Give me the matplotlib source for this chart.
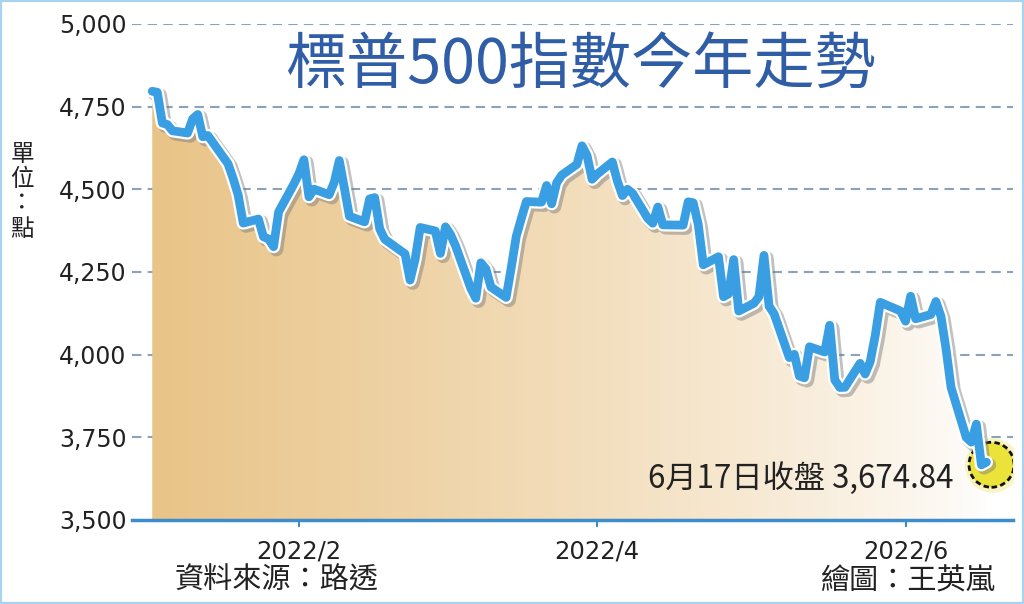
import numpy as np
import pandas as pd
import matplotlib
matplotlib.use("Agg")
import matplotlib.pyplot as plt
import matplotlib.dates as mdates
import matplotlib.patheffects as pe
from matplotlib.patches import Rectangle

# 交易日 (2022/1/3 ~ 2022/6/17)
holidays = ["2022-01-17", "2022-02-21", "2022-04-15", "2022-05-30"]
dates = pd.bdate_range("2022-01-03", "2022-06-17", freq="C", holidays=holidays)

# 收盤價
closes = [
    4796.56, 4793.54, 4700.58, 4696.05, 4677.03, 4670.29, 4713.07, 4726.35, 4659.03, 4662.85,
    4577.11, 4532.76, 4482.73, 4397.94, 4410.13, 4356.45, 4349.93, 4326.51, 4431.85, 4515.55,
    4546.54, 4589.38, 4477.44, 4500.53, 4483.87, 4521.54, 4587.18, 4504.08, 4418.64, 4401.67,
    4471.07, 4475.01, 4380.26, 4348.87, 4304.76, 4225.50, 4288.70, 4384.65, 4373.94,
    4306.26, 4386.54, 4363.49, 4328.87, 4201.09, 4170.70, 4277.88, 4259.52, 4204.31, 4173.11,
    4262.45, 4357.86, 4411.67, 4463.12, 4461.18, 4511.61, 4456.24, 4520.16, 4543.06, 4575.52,
    4631.60, 4602.45, 4530.41,
    4545.86, 4582.64, 4525.12, 4481.15, 4500.21, 4488.28, 4412.53, 4397.45, 4446.59, 4392.59,
    4391.69, 4462.21, 4459.45, 4393.66, 4271.78, 4296.12, 4175.20, 4183.96, 4287.50, 4131.93,
    4155.38, 4175.48, 4300.17, 4146.87, 4123.34, 3991.24, 4001.05, 3935.18, 3930.08, 4023.89,
    4008.01, 4088.85, 3923.68, 3900.79, 3901.36, 3973.75, 3941.48, 3978.73, 4057.84, 4158.24,
    4132.15,
    4101.23, 4176.82, 4108.54, 4121.43, 4160.68, 4115.77, 4017.82, 3900.86, 3749.63, 3735.48,
    3789.99, 3666.77, 3674.84,
]

yticks = [3500, 3750, 4000, 4250, 4500, 4750, 5000]
xtick_dates = ["2022-02-01", "2022-04-01", "2022-06-01"]
xtick_labels = ["2022/2", "2022/4", "2022/6"]

CJK = ["Noto Sans CJK TC", "DejaVu Sans"]
plt.rcParams["font.family"] = ["DejaVu Sans"]

fig = plt.figure(figsize=(10.24, 6.04), dpi=100)
ax = fig.add_axes([132 / 1024, 84 / 604, (1013 - 132) / 1024, (520 - 24) / 604])

x = mdates.date2num(dates)
y = np.array(closes)
ax.set_xlim(mdates.date2num(pd.Timestamp("2021-12-30")), mdates.date2num(pd.Timestamp("2022-06-22 06:00")))
ax.set_ylim(3500, 5000)

# 漸層填色
poly = ax.fill_between(x, y, 3500, color="none", lw=0)
grad = np.linspace(0, 1, 256)
c0 = np.array([233, 196, 136]) / 255
c1 = np.array([255, 255, 255]) / 255
img = np.array([[c0 * (1 - g) ** 0.8 + c1 * (1 - (1 - g) ** 0.8) for g in grad]])
im = ax.imshow(img, extent=[x[0], x[-1] + 1, 3500, 5000], aspect="auto", zorder=1)
im.set_clip_path(poly.get_paths()[0], transform=ax.transData)

# 格線
for v in yticks[1:]:
    ax.axhline(v, color="#8aa2bb", lw=1.5, ls=(0, (4.5, 3)), zorder=0.5)

# 收盤點圓圈
ax.scatter([x[-1] + 1], [3667], s=1550, color="#f6f2a8", alpha=0.7, zorder=2, lw=0)
ax.scatter([x[-1] + 1], [3667], s=1050, facecolor="#ece33a", edgecolor="#111111",
           linewidths=2, linestyle=(0, (2, 1.2)), zorder=3)

ax.plot(x, y, color="#3a9fe2", lw=6.3, solid_joinstyle="round", solid_capstyle="round", zorder=4,
        path_effects=[pe.SimpleLineShadow(offset=(2, -2), shadow_color="#777777", alpha=0.45, linewidth=10),
                      pe.Stroke(linewidth=9.5, foreground="white"), pe.Normal()])

for s in ["left", "right", "top"]:
    ax.spines[s].set_visible(False)
ax.spines["bottom"].set_color("#3d8dcc")
ax.spines["bottom"].set_linewidth(2.5)
ax.spines["bottom"].set_zorder(5)

ax.set_yticks(yticks)
ax.set_yticklabels([f"{v:,}" for v in yticks], fontsize=17, color="#222222")
ax.tick_params(axis="y", length=0, pad=4)
ax.set_xticks(mdates.date2num(pd.to_datetime(xtick_dates)))
ax.set_xticklabels(xtick_labels, fontsize=17.5, color="#222222")
ax.tick_params(axis="x", length=5, width=1.5, color="#3d8dcc", pad=9)
ax.patch.set_alpha(0)

fig.text(580 / 1024, 1 - 66 / 604, "標普500指數今年走勢", family=CJK, fontsize=44, weight="medium",
         color="#2f5da6", ha="center", va="center")
fig.text(22 / 1024, 1 - 192 / 604, "單\n位\n：\n點", family=CJK, fontsize=17, color="#222222",
         ha="center", va="center", linespacing=1.1)
fig.text(953 / 1024, 1 - 478 / 604, "6月17日收盤 3,674.84", family=CJK, fontsize=22.5,
         color="#222222", ha="right", va="center")
fig.text(277 / 1024, 1 - 581 / 604, "資料來源：路透", family=CJK, fontsize=21, color="#222222",
         ha="center", va="center")
fig.text(907 / 1024, 1 - 581 / 604, "繪圖：王英嵐", family=CJK, fontsize=21, color="#222222",
         ha="center", va="center")

fig.patches.append(Rectangle((0, 0), 1, 1, transform=fig.transFigure, fill=False,
                             edgecolor="#a9d2ee", lw=3, zorder=10))

fig.savefig("out.png", dpi=100)
